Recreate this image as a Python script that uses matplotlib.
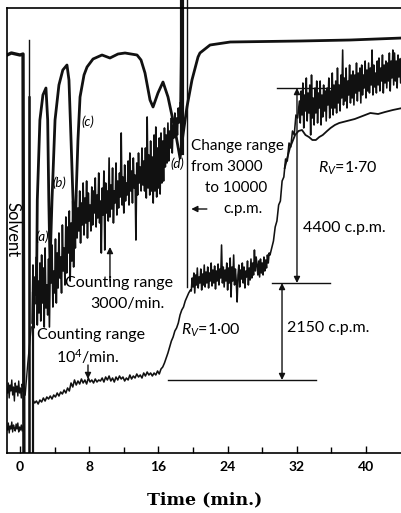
# chromatogram: optical density + radioactivity counting traces

import numpy as np
import matplotlib.pyplot as plt

plt.rcParams['font.family'] = ['Lato', 'DejaVu Sans']
plt.rcParams['mathtext.fontset'] = 'custom'
plt.rcParams['mathtext.rm'] = 'Lato'
plt.rcParams['mathtext.it'] = 'Lato:italic'

INK = "#111111"

# optical density trace (time in min, signal in arbitrary units)
od_pre_t = [-1.5, -1.0, -0.5, 0.0, 0.35, 0.45]
od_pre_s = [398, 400, 399, 398, 399, 0]

od_t = [1.9, 2.0, 2.3, 2.65, 3.0, 3.2, 3.33, 3.47, 3.7, 4.05, 4.5, 4.95, 5.43,
        5.66, 5.9, 6.13, 6.24, 6.47, 6.7, 6.94, 7.4, 7.75, 8.44, 9.48, 10.4,
        11.33, 12.14, 12.83, 13.53, 13.99, 14.45, 15.03, 15.38, 15.95, 16.53,
        17.11, 17.92, 18.5, 18.84, 19.3, 19.88, 20.58, 20.8, 21.97, 24.3,
        32.4, 38.2, 44.2]
od_s = [150, 253, 333, 358, 365, 333, 253, 188, 253, 333, 368, 383, 388,
        373, 313, 253, 213, 253, 313, 356, 378, 386, 394, 398, 395,
        399, 400, 399, 398, 393, 380, 353, 346, 360, 371,
        356, 323, 295, 318, 346, 373, 396, 400, 408, 411,
        412, 413, 415]

# counting range 3000/min, sampled every 0.1 min from 1.4 min
c3000_start = 1.4
c3000_s = [
    130, 188, 125, 176, 158, 196, 128, 172, 140, 190,
    132, 198, 150, 185, 126, 205, 145, 168, 138, 194,
    126, 190, 170, 208, 146, 182, 160, 214, 150, 200,
    165, 220, 175, 196, 160, 228, 182, 205, 168, 236,
    180, 226, 200, 242, 172, 230, 192, 252, 186, 238,
    205, 258, 215, 245, 222, 262, 210, 250, 228, 270,
    218, 255, 230, 272, 215, 260, 232, 248, 222, 266,
    228, 262, 240, 275, 226, 258, 235, 280, 230, 252,
    200, 265, 238, 282, 203, 270, 240, 262, 232, 295,
    236, 268, 244, 285, 230, 262, 250, 290, 238, 272,
    245, 280, 256, 320, 248, 276, 240, 288, 252, 270,
    258, 292, 248, 300, 262, 282, 250, 295, 265, 278,
    213, 290, 258, 300, 270, 286, 262, 305, 268, 292,
    262, 305, 255, 336, 265, 298, 258, 312, 262, 296,
    250, 318, 262, 326, 256, 305, 265, 315, 259, 320,
    270, 312, 272, 325, 286, 318, 290, 330, 292, 322,
    305, 335, 300, 328, 315, 340, 322, 335, 318, 345, 330, 350]

# counting range 10^4/min: baseline every 0.2 min from 1.5 min
c10k_base_start = 1.5
c10k_base_s = [
    53, 50, 52, 49, 53, 51, 55, 52, 56, 54,
    57, 54, 58, 56, 60, 57, 61, 59, 63, 60,
    65, 62, 70, 66, 73, 68, 72, 69, 74, 70,
    73, 69, 75, 71, 73, 70, 74, 71, 73, 72,
    75, 71, 76, 73, 77, 72, 75, 71, 76, 73,
    77, 74, 76, 72, 75, 73, 78, 74, 77, 75,
    79, 76, 78, 75, 80, 77, 81, 78, 80, 77,
    80, 78, 82, 79, 84, 86, 90, 95, 100, 106,
    112, 116, 122, 125, 130, 138, 143, 146, 152, 156,
    160, 163]

# first peak plateau (R_V = 1.00), every 0.1 min from 19.8 min
c10k_p1_start = 19.8
c10k_p1_s = [
    162, 175, 166, 180, 160, 178, 168, 185, 165, 176,
    170, 184, 163, 179, 168, 188, 166, 181, 170, 186,
    165, 180, 172, 190, 167, 183, 170, 187, 164, 182,
    172, 189, 168, 184, 175, 208, 170, 186, 166, 183,
    172, 190, 163, 185, 170, 195, 156, 186, 172, 198,
    168, 184, 172, 151, 178, 188, 166, 183, 174, 190,
    170, 186, 165, 182, 176, 192, 168, 185, 173, 194,
    175, 190, 178, 203, 182, 196, 188,
    178, 192, 176, 194, 180, 190, 178, 196, 182, 193, 185, 198, 190, 200, 198]

# rise to second peak (R_V = 1.70)
c10k_rise_t = [29.1, 29.3, 29.5, 29.7, 29.9, 30.1, 30.3, 30.5, 30.7, 30.9,
               31.1, 31.3, 31.5, 31.7, 31.9, 32.1, 32.3]
c10k_rise_s = [205, 212, 226, 232, 248, 252, 272, 276, 294, 292,
               310, 306, 322, 318, 338, 335, 352]

# second plateau, every 0.1 min from 32.4 min
c10k_p2_start = 32.4
c10k_p2_s = [
    330, 362, 338, 370, 325, 358, 342, 375, 332, 360,
    340, 368, 318, 378, 335, 355, 328, 365, 340, 372,
    330, 360, 345, 372, 328, 358, 336, 368, 342, 362,
    332, 365, 348, 375, 335, 362, 345, 380, 338, 368,
    345, 372, 340, 385, 350, 368, 342, 378, 355, 403,
    348, 375, 352, 385, 345, 372, 358, 388, 350, 378,
    355, 382, 348, 378, 360, 390, 352, 380, 362, 385,
    350, 388, 358, 378, 365, 392, 355, 383, 362, 390,
    360, 385, 368, 403, 358, 388, 366, 380, 360, 392,
    368, 395, 362, 385, 372, 398, 360, 388, 370, 392,
    365, 390, 372, 400, 362, 392, 375, 403, 368, 400,
    372, 392, 365, 398, 376, 394, 370, 395, 380]

# lower envelope of the second plateau (second pen run)
run2_t = [30.6, 31.2, 31.8, 32.2, 32.6, 33.0, 33.4, 33.8, 34.2, 34.6, 35.0,
          35.5, 35.9, 36.4, 36.9, 37.8, 38.7, 39.6, 40.5, 41.4, 42.2, 43.1, 44.2]
run2_s = [285, 305, 318, 322, 323, 318, 316, 313, 313, 316, 318,
          322, 325, 328, 330, 332, 334, 337, 340, 339, 341, 343, 345]

# traces left of the solvent front
left_t = [-1.45, -1.35, -1.25, -1.15, -1.05, -0.95, -0.85, -0.75, -0.65, -0.55,
          -0.45, -0.35, -0.25, -0.15, -0.05, 0.05, 0.15, 0.25, 0.35]
left_hi_s = [60, 70, 55, 68, 62, 73, 58, 66, 52, 70, 61, 67, 57, 72, 60, 65, 55, 69, 62]
left_lo_s = [23, 30, 20, 27, 24, 31, 21, 28, 25, 22, 29, 24, 30, 21, 26, 23, 28, 22, 27]

# measurement levels
base_level = 73
peak1_level = 170
peak2_level = 365


def series(start, step, values):
    return start + step * np.arange(len(values)), np.array(values)


fig = plt.figure(figsize=(4.02, 5.13), dpi=100)
ax = fig.add_axes([7 / 402, 60 / 513, 395 / 402, 445 / 513])

# optical density
ax.plot(od_pre_t, od_pre_s, color=INK, lw=2.4, solid_joinstyle="round")
ax.plot(od_t, od_s, color=INK, lw=2.0, solid_joinstyle="round")
ax.plot([18.7, 18.7], [300, 462], color=INK, lw=3.0, clip_on=False)

# solvent marks
ax.plot([1.04, 1.04], [0, 413], color=INK, lw=1.0)
ax.plot([1.04, 1.04], [0, 356], color=INK, lw=1.8)
ax.plot([1.5, 1.5], [0, 160], color=INK, lw=1.6)
ax.plot([0.6, 0.9, 1.3], [58, 90, 126], color=INK, lw=1.0)
ax.plot([19.3, 19.3], [166, 462], color=INK, lw=1.0, clip_on=False)

# counting traces
t, s = series(c3000_start, 0.1, c3000_s)
ax.plot(t, s, color=INK, lw=1.2)
ax.plot([18.5, 18.6, 18.7], [350, 420, 300], color=INK, lw=1.0)

t1, s1 = series(c10k_base_start, 0.2, c10k_base_s)
t2, s2 = series(c10k_p1_start, 0.1, c10k_p1_s)
t4, s4 = series(c10k_p2_start, 0.1, c10k_p2_s)
tt = np.concatenate([t1, t2, c10k_rise_t, t4])
ss = np.concatenate([s1, s2, c10k_rise_s, s4])
ax.plot(tt, ss, color=INK, lw=1.15)
ax.plot(run2_t, run2_s, color=INK, lw=1.3)

ax.plot(left_t, left_hi_s, color=INK, lw=1.0)
ax.plot(left_t, left_lo_s, color=INK, lw=1.0)

# level lines and measurement arrows
ax.plot([29.7, 35.84], [peak2_level, peak2_level], color=INK, lw=1.0)
ax.plot([29.13, 35.84], [peak1_level, peak1_level], color=INK, lw=1.0)
ax.plot([17.1, 34.2], [base_level, base_level], color=INK, lw=1.0)
arr = dict(arrowstyle="<|-|>", color=INK, lw=1.0, shrinkA=0, shrinkB=0, mutation_scale=9)
ax.annotate("", xy=(32.02, peak2_level), xytext=(32.02, peak1_level), arrowprops=arr)
ax.annotate("", xy=(30.29, peak1_level), xytext=(30.29, base_level), arrowprops=arr)
one = dict(arrowstyle="-|>", color=INK, lw=1.0, shrinkA=0, shrinkB=0, mutation_scale=9)
ax.annotate("", xy=(10.4, 206), xytext=(10.4, 172), arrowprops=one)
ax.annotate("", xy=(7.86, 74), xytext=(7.86, 88), arrowprops=one)
ax.annotate("", xy=(19.8, 244), xytext=(21.6, 244), arrowprops=one)

# labels
fs = 11.5
ax.text(-0.92, 223, "Solvent", rotation=-90, ha="center", va="center", fontsize=12)
for lab, x, y in [("(a)", 2.54, 216), ("(b)", 4.51, 270), ("(c)", 7.86, 331), ("(d)", 18.15, 289)]:
    ax.text(x, y, lab, style="italic", ha="center", va="center", fontsize=9.5)
ax.text(19.77, 307, "Change range", ha="left", va="center", fontsize=11)
ax.text(19.77, 286, "from 3000", ha="left", va="center", fontsize=11)
ax.text(21.39, 265, "to 10000", ha="left", va="center", fontsize=11)
ax.text(23.47, 244, "c.p.m.", ha="left", va="center", fontsize=11)
ax.text(34.45, 285, r"$R_V$=1·70", ha="left", va="center", fontsize=fs)
ax.text(32.72, 225, "4400 c.p.m.", ha="left", va="center", fontsize=fs)
ax.text(30.87, 125, "2150 c.p.m.", ha="left", va="center", fontsize=fs)
ax.text(18.6, 123, r"$R_V$=1·00", ha="left", va="center", fontsize=fs)
ax.text(5.2, 170, "Counting range", ha="left", va="center", fontsize=fs)
ax.text(12.37, 149, "3000/min.", ha="center", va="center", fontsize=fs)
ax.text(1.97, 118, "Counting range", ha="left", va="center", fontsize=fs)
ax.text(7.86, 96, r"10$^4$/min.", ha="center", va="center", fontsize=fs)

ax.set_xlim(-1.503, 44.16)
ax.set_ylim(0, 445)
ax.set_xticks([0, 8, 16, 24, 32, 40])
ax.set_xticks([4, 12, 20, 28, 36], minor=True)
ax.set_yticks([])
ax.tick_params(axis="x", direction="in", length=5, width=1.0, pad=6, labelsize=10)
ax.tick_params(axis="x", which="minor", direction="in", length=4, width=1.0)
for lab in ax.get_xticklabels():
    lab.set_fontweight("bold")
ax.spines["right"].set_visible(False)
for sp in ["left", "top", "bottom"]:
    ax.spines[sp].set_linewidth(1.2)

fig.text(205 / 402, 1 - 500 / 513, "Time (min.)", ha="center", va="center",
         fontsize=12.5, fontweight="bold", family="DejaVu Serif")

fig.savefig("out.png", dpi=100)
